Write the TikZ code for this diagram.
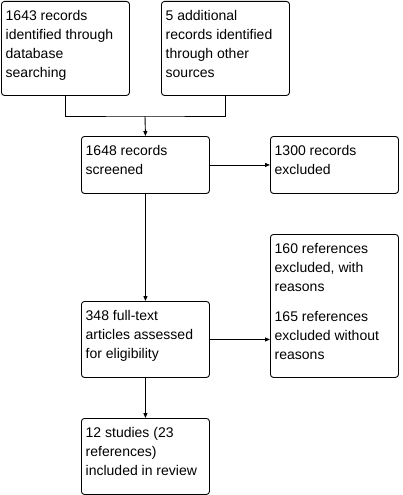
\documentclass[tikz,border=0pt]{standalone}
\usepackage{fontspec}
\setmainfont{Liberation Sans}
\usetikzlibrary{arrows.meta}
\newcommand\mlines[1]{\begin{tabular}[t]{@{}l@{}}#1\end{tabular}}
\tikzset{
  boxshape/.style={draw=black, line width=0.9pt, rounded corners=3pt, minimum width=128pt, inner sep=0pt, anchor=north west},
  boxtext/.style={anchor=base west, inner sep=0pt, font=\fontsize{14}{19}\selectfont},
  conn/.style={line width=0.9pt, draw=black},
  arr/.style={conn, -{Triangle[length=5pt,width=4pt]}}
}
\begin{document}
\begin{tikzpicture}[x=1pt,y=-1pt]
\useasboundingbox (0,0) rectangle (402,495);
% boxes
\node[boxshape, minimum height=94pt] (b1) at (1,1) {};
\node[boxshape, minimum height=94pt] (b2) at (161,1) {};
\node[boxshape, minimum height=57pt] (b3) at (81,136) {};
\node[boxshape, minimum height=57pt] (b4) at (270,136) {};
\node[boxshape, minimum height=76pt] (b5) at (81,301) {};
\node[boxshape, minimum height=143pt] (b6) at (270,234) {};
\node[boxshape, minimum height=76pt] (b7) at (81,418) {};
% texts
\node[boxtext] (t1) at ([xshift=4.5pt,yshift=-19.5pt]b1.north west) {\mlines{1643 records\\identified through\\database\\searching}};
\node[boxtext] (t2) at ([xshift=4.5pt,yshift=-19.5pt]b2.north west) {\mlines{5 additional\\records identified\\through other\\sources}};
\node[boxtext] (t3) at ([xshift=4.5pt,yshift=-19.5pt]b3.north west) {\mlines{1648 records\\screened}};
\node[boxtext] (t4) at ([xshift=4.5pt,yshift=-19.5pt]b4.north west) {\mlines{1300 records\\excluded}};
\node[boxtext] (t5) at ([xshift=4.5pt,yshift=-19.5pt]b5.north west) {\mlines{348 full-text\\articles assessed\\for eligibility}};
\node[boxtext] (t6a) at ([xshift=4.5pt,yshift=-19.5pt]b6.north west) {\mlines{160 references\\excluded, with\\reasons}};
\node[boxtext] (t6b) at ([xshift=4.5pt,yshift=-87pt]b6.north west) {\mlines{165 references\\excluded without\\reasons}};
\node[boxtext] (t7) at ([xshift=4.5pt,yshift=-19.5pt]b7.north west) {\mlines{12 studies (23\\references)\\included in review}};
% connectors
\coordinate (j) at (145,116);
\draw[conn] (b1.south) |- (j) -| (b2.south);
\draw[arr] (j) -- (b3.north);
\draw[arr] (b3.east) -- (b4.west);
\draw[arr] (b3.south) -- (b5.north);
\draw[arr] (b5.east) -- (b5.east -| b6.west);
\draw[arr] (b5.south) -- (b7.north);
\end{tikzpicture}
\end{document}
